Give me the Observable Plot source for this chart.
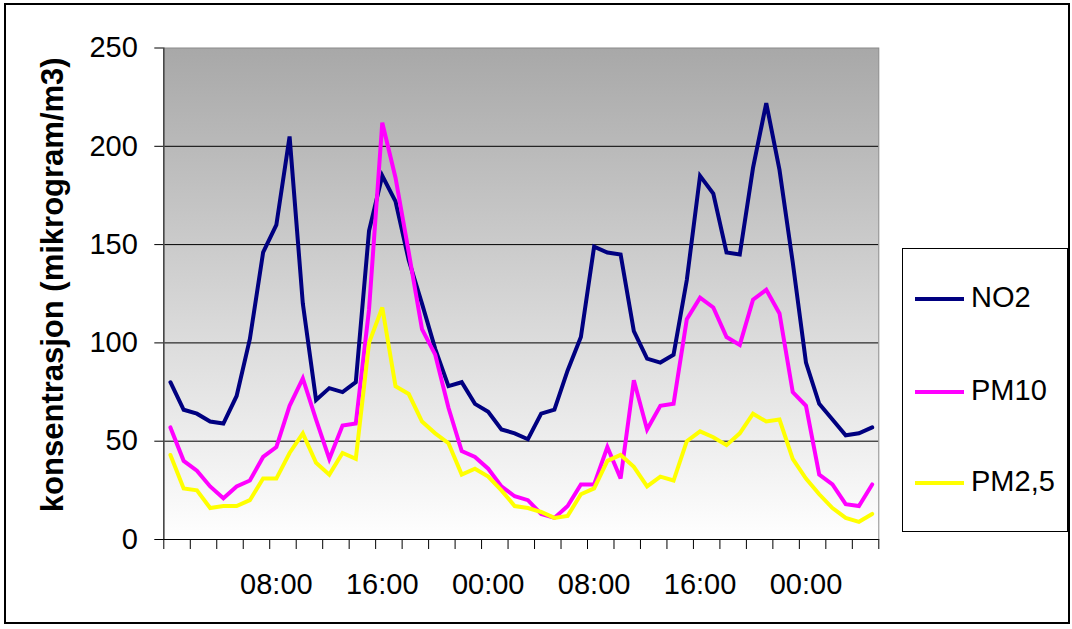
<!DOCTYPE html>
<html>
<head>
<meta charset="utf-8">
<script src="https://cdn.jsdelivr.net/npm/d3@7"></script>
<script src="https://cdn.jsdelivr.net/npm/@observablehq/plot@0.6"></script>
<style>
  html, body { margin: 0; padding: 0; background: #fff; }
  #wrap { position: relative; width: 1072px; height: 629px; font-family: "Liberation Sans", Arial, sans-serif; overflow: hidden; }
  #border { position: absolute; left: 4px; top: 3px; width: 1066px; height: 621px; border: 2px solid #000; box-sizing: border-box; pointer-events: none; }
  #legend { position: absolute; left: 902px; top: 248px; width: 166px; height: 284px; border: 1px solid #000; box-sizing: border-box; background: #fff; }
  .item { position: absolute; left: 0; height: 0; }
  .swatch { position: absolute; left: 12px; top: -2px; width: 49px; height: 4px; }
  .lbl { position: absolute; left: 68px; top: -18px; font-size: 29px; line-height: 32px; white-space: nowrap; color: #000; }
</style>
</head>
<body>
<div id="wrap">
  <div id="chart"></div>
  <div id="legend"></div>
  <div id="border"></div>
</div>
<script>
// ---- data ----
const hours = d3.range(54); // hourly categories, 00:00 on day 1 .. 05:00 on day 3
const seriesNames = ["NO2", "PM10", "PM2,5"];
const seriesColors = ["#000080", "#FF00FF", "#FFFF00"];
const no2 = [80,66,64,60,59,73,102,146,160,205,120,71,77,75,80,157,185,172,142,120,97,78,80,69,65,56,54,51,64,66,86,103,149,146,145,106,92,90,94,132,185,176,146,145,189,222,188,141,90,69,61,53,54,57];
const pm10 = [57,40,35,27,21,27,30,42,47,68,82,61,41,58,59,117,212,184,146,107,94,67,45,42,36,27,22,20,13,11,17,28,28,47,31,81,56,68,69,112,123,118,103,99,122,127,115,75,68,33,28,18,17,28];
const pm25 = [43,26,25,16,17,17,20,31,31,44,54,39,33,44,41,100,118,78,74,60,54,49,33,36,32,25,17,16,14,11,12,23,26,40,43,37,27,32,30,50,55,52,48,54,64,60,61,41,31,23,16,11,9,13];
const yTicks = [0, 50, 100, 150, 200, 250];
const xLabelPos = [8, 16, 24, 32, 40, 48];
const xLabels = ["08:00", "16:00", "00:00", "08:00", "16:00", "00:00"];
const yTitle = "konsentrasjon (mikrogram/m3)";

const values = [no2, pm10, pm25];
const data = seriesNames.flatMap((s, k) => hours.map((h, i) => ({series: s, hour: h, value: values[k][i]})));
const tickBounds = d3.range(-0.5, 54, 2);

const defs = () => {
  const g = d3.create("svg:defs");
  const lg = g.append("linearGradient").attr("id", "bg").attr("x1", 0).attr("y1", 0).attr("x2", 0).attr("y2", 1);
  lg.append("stop").attr("offset", "0%").attr("stop-color", "#a8a8a8");
  lg.append("stop").attr("offset", "100%").attr("stop-color", "#ffffff");
  return g.node();
};

const chart = Plot.plot({
  width: 1072,
  height: 629,
  marginLeft: 163.3,
  marginRight: 193.7,
  marginTop: 47.5,
  marginBottom: 90,
  style: { fontFamily: "'Liberation Sans', Arial, sans-serif", fontSize: "29px", background: "transparent", color: "#000" },
  x: { domain: [-0.5, 53.5] },
  y: { domain: [0, 250] },
  color: { domain: seriesNames, range: seriesColors },
  marks: [
    defs,
    Plot.frame({ fill: "url(#bg)", stroke: "none" }),
    Plot.gridY(yTicks.filter(d => d > 0 && d < 250), { stroke: "#000", strokeOpacity: 1, strokeWidth: 1 }),
    Plot.frame({ stroke: "#8a8a8a", strokeWidth: 1 }),
    Plot.axisY(yTicks, { tickSize: 9, tickPadding: 17, fontSize: 29, label: null, stroke: "#000" }),
    Plot.axisX(tickBounds, { tickSize: 10, tickFormat: () => "", label: null, stroke: "#000" }),
    Plot.axisX(xLabelPos, { tickSize: 0, tickPadding: 34, fontSize: 29, tickFormat: (d, i) => xLabels[i], label: null }),
    Plot.ruleX([-0.5], { stroke: "#444", strokeWidth: 1.5 }),
    Plot.ruleY([0], { stroke: "#000", strokeWidth: 1.2 }),
    Plot.line(data, { x: "hour", y: "value", z: "series", stroke: "series", strokeWidth: 4, strokeLinejoin: "miter", strokeMiterlimit: 3 }),
    Plot.text([yTitle], { frameAnchor: "left", rotate: -90, dx: -101, dy: -9, textAnchor: "middle", lineAnchor: "bottom", fontWeight: "bold", fontSize: 31 })
  ]
});
document.getElementById("chart").appendChild(chart);

// legend
const legend = document.getElementById("legend");
const rowY = [50, 143, 234];
seriesNames.forEach((s, k) => {
  const it = document.createElement("div");
  it.className = "item";
  it.style.top = rowY[k] + "px";
  it.innerHTML = `<div class="swatch" style="background:${seriesColors[k]}"></div><div class="lbl">${s}</div>`;
  legend.appendChild(it);
});
</script>
</body>
</html>
